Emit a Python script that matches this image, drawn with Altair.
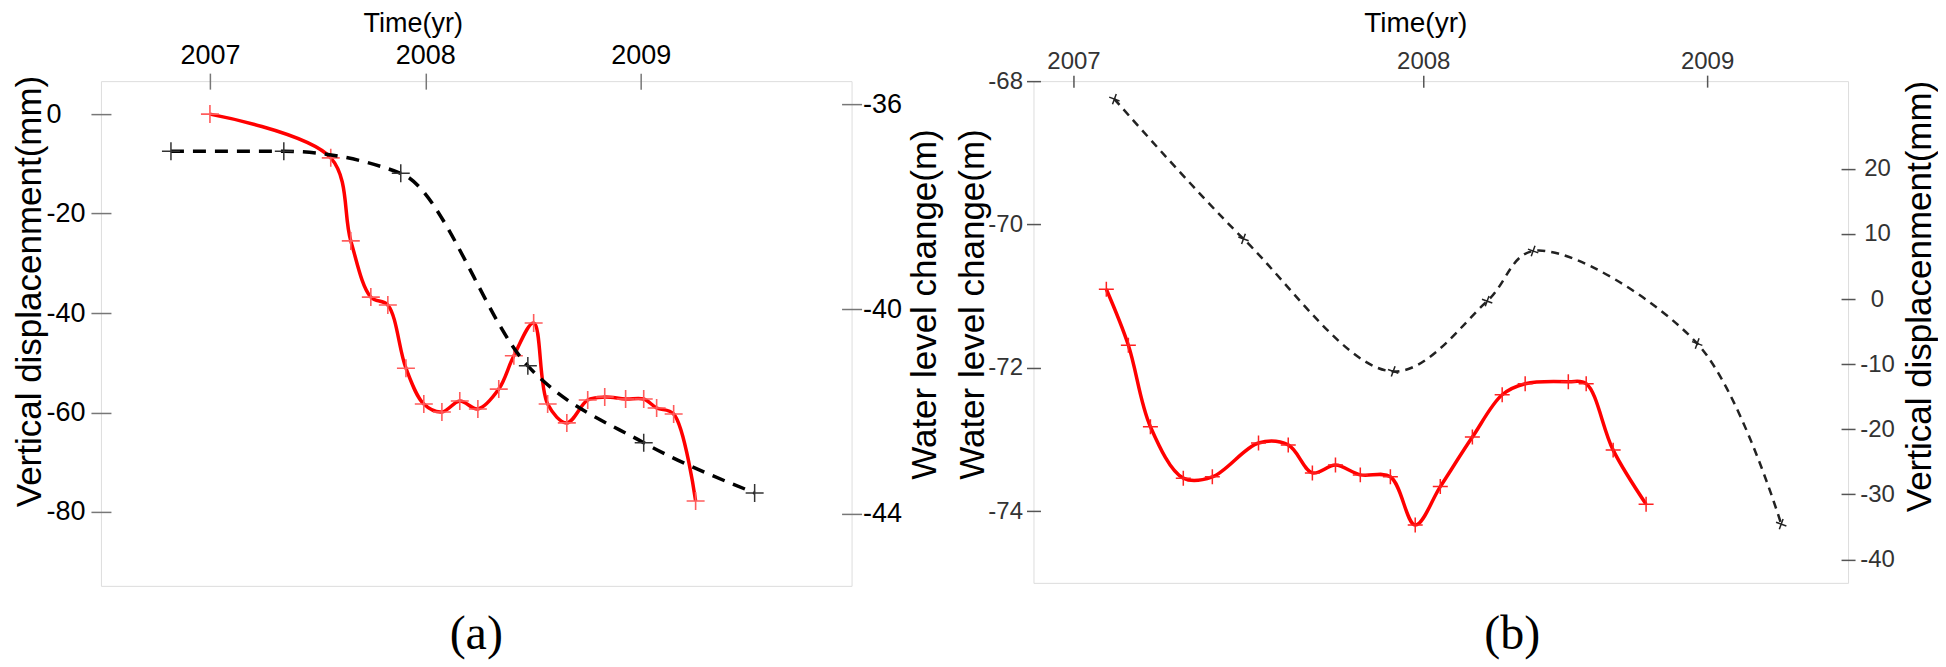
import altair as alt
import pandas as pd

SANS = "Liberation Sans"
SERIF = "Liberation Serif"
PLUS = "M-1,0L1,0M0,-1L0,1"

# ---------------- Panel (a) ----------------
A_RED_YEAR = [2007.000, 2007.561, 2007.654, 2007.747, 2007.826, 2007.910, 2007.993,
              2008.077, 2008.160, 2008.244, 2008.341, 2008.411, 2008.503, 2008.568,
              2008.657, 2008.754, 2008.833, 2008.930, 2009.014, 2009.074, 2009.153,
              2009.255]
A_RED_MM = [0.0, -8.8, -25.5, -36.8, -38.4, -51.1, -58.3,
            -59.9, -57.7, -59.3, -55.3, -48.6, -42.0, -58.3,
            -62.1, -57.5, -56.9, -57.3, -57.3, -59.1, -60.3,
            -77.8]
A_WL_YEAR = [2006.819, 2007.343, 2007.886, 2008.476, 2009.014, 2009.529]
A_WL_M = [-36.92, -36.92, -37.35, -41.11, -42.61, -43.59]

# ---------------- Panel (b) ----------------
B_WL_YEAR = [2007.117, 2007.486, 2007.914, 2008.225, 2008.387, 2008.965, 2009.261]
B_WL_M = [-68.25, -70.20, -72.05, -71.07, -70.37, -71.66, -74.18]
B_RED_YEAR = [2007.094, 2007.157, 2007.220, 2007.314, 2007.397, 2007.529, 2007.614,
              2007.683, 2007.749, 2007.820, 2007.906, 2007.977, 2008.060, 2008.173,
              2008.278, 2008.359, 2008.511, 2008.574, 2008.669, 2008.785]
B_RED_MM = [1.5, -7.1, -19.6, -27.5, -27.3, -22.1, -22.4,
            -26.7, -25.5, -27.0, -27.3, -34.7, -28.8, -21.2,
            -14.7, -13.0, -12.7, -13.0, -23.2, -31.5]

YEAR_TICKS = [2007, 2008, 2009]
A_LEFT_TICKS = [0, -20, -40, -60, -80]
A_RIGHT_TICKS = [-36, -40, -44]
B_LEFT_TICKS = [-74, -72, -70, -68]
B_RIGHT_TICKS = [-40, -30, -20, -10, 0, 10, 20]

df_a_red = pd.DataFrame({"year": A_RED_YEAR, "value": A_RED_MM})
df_a_wl = pd.DataFrame({"year": A_WL_YEAR, "value": A_WL_M})
df_b_red = pd.DataFrame({"year": B_RED_YEAR, "value": B_RED_MM})
df_b_wl = pd.DataFrame({"year": B_WL_YEAR, "value": B_WL_M})

HYPHEN_LABEL = "'' + datum.value"


def common_axis(**kw):
    base = dict(domain=False, grid=False, tickWidth=1.5, labelFont=SANS,
                titleFont=SANS, titleFontWeight="normal", labelOverlap=False,
                labelFlush=False)
    base.update(kw)
    return alt.Axis(**base)


# ---- axes panel (a)
ax_a_x = common_axis(orient="top", values=YEAR_TICKS, format="d", offset=-8, tickSize=16,
                     tickColor="#777777", labelFontSize=27, labelColor="#000000",
                     labelPadding=10, labelBaseline="alphabetic", labelAngle=0,
                     title="Time(yr)", titleFontSize=27, titleColor="#000000",
                     titleX=312, titleY=-58, titleAlign="center", titleBaseline="alphabetic")
ax_a_l = common_axis(orient="left", values=A_LEFT_TICKS, offset=-10, tickSize=20,
                     tickColor="#777777", labelFontSize=27, labelColor="#000000",
                     labelAlign="left", labelPadding=45, labelBaseline="middle",
                     labelExpr=HYPHEN_LABEL,
                     title="Vertical displacenment(mm)", titleFontSize=35, titleColor="#000000",
                     titleAngle=270, titleX=-81.5, titleY=210, titleAlign="center",
                     titleBaseline="middle")
ax_a_r = common_axis(orient="right", values=A_RIGHT_TICKS, offset=-10, tickSize=20,
                     tickColor="#777777", labelFontSize=27, labelColor="#000000",
                     labelAlign="left", labelPadding=1, labelBaseline="middle",
                     labelExpr=HYPHEN_LABEL,
                     title="Water level change(m)", titleFontSize=35, titleColor="#000000",
                     titleAngle=270, titleX=83, titleY=223, titleAlign="center",
                     titleBaseline="middle")

xa = alt.X("year:Q", axis=ax_a_x,
           scale=alt.Scale(domain=[2006.494, 2009.979], nice=False, zero=False))

base_a_red = alt.Chart(df_a_red).encode(
    x=xa,
    y=alt.Y("value:Q", axis=ax_a_l,
            scale=alt.Scale(domain=[-94.87, 6.63], nice=False, zero=False)))
a_red = alt.layer(
    base_a_red.mark_line(color="#ff0000", strokeWidth=3.5, interpolate="catmull-rom"),
    base_a_red.mark_point(shape=PLUS, size=324, filled=False, color="#ff5c5c",
                          strokeWidth=1.6, opacity=1),
)

base_a_wl = alt.Chart(df_a_wl).encode(
    x=xa,
    y=alt.Y("value:Q", axis=ax_a_r,
            scale=alt.Scale(domain=[-45.405, -35.551], nice=False, zero=False)))
a_wl = alt.layer(
    base_a_wl.mark_line(color="#000000", strokeWidth=3.5, strokeDash=[13, 9],
                        interpolate="monotone"),
    base_a_wl.mark_point(shape=PLUS, size=324, filled=False, color="#333333",
                         strokeWidth=1.5, opacity=1),
)

panel_a = alt.layer(a_red, a_wl).resolve_scale(y="independent").properties(
    width=751, height=505,
    title=alt.TitleParams("(a)", orient="bottom", frame="group", anchor="middle",
                          font=SERIF, fontSize=48, fontWeight="normal", color="#000000",
                          baseline="alphabetic", offset=63))

# ---- axes panel (b)
ax_b_x = common_axis(orient="top", values=YEAR_TICKS, format="d", offset=-6, tickSize=12,
                     tickColor="#555555", labelFontSize=24, labelColor="#333333",
                     labelPadding=7, labelBaseline="alphabetic", labelAngle=0,
                     title="Time(yr)", titleFontSize=28, titleColor="#000000",
                     titleX=382, titleY=-55.6, titleAlign="center", titleBaseline="alphabetic")
ax_b_l = common_axis(orient="left", values=B_LEFT_TICKS, offset=-7, tickSize=14,
                     tickColor="#555555", labelFontSize=24, labelColor="#333333",
                     labelAlign="right", labelPadding=4, labelBaseline="middle",
                     labelFlush=True, labelExpr=HYPHEN_LABEL,
                     title="Water level change(m)", titleFontSize=35, titleColor="#000000",
                     titleAngle=270, titleX=-68, titleY=223, titleAlign="center",
                     titleBaseline="middle")
ax_b_r = common_axis(orient="right", values=B_RIGHT_TICKS, offset=-7, tickSize=14,
                     tickColor="#555555", labelFontSize=24, labelColor="#333333",
                     labelAlign="center", labelPadding=22, labelBaseline="middle",
                     labelExpr=HYPHEN_LABEL,
                     title="Vertical displacenment(mm)", titleFontSize=35, titleColor="#000000",
                     titleAngle=270, titleX=78, titleY=215, titleAlign="center",
                     titleBaseline="middle")

xb = alt.X("year:Q", axis=ax_b_x,
           scale=alt.Scale(domain=[2006.8857, 2008, 2009, 2009.4965],
                           range=[0, 390, 674, 815], nice=False, zero=False))

base_b_wl = alt.Chart(df_b_wl).encode(
    x=xb,
    y=alt.Y("value:Q", axis=ax_b_l,
            scale=alt.Scale(domain=[-75, -68], nice=False, zero=False)))
b_wl = alt.layer(
    base_b_wl.mark_line(color="#222222", strokeWidth=2.5, strokeDash=[8, 6],
                        interpolate="catmull-rom"),
    base_b_wl.mark_point(shape=PLUS, size=121, filled=False, color="#222222",
                         strokeWidth=1.5, opacity=1, angle=20),
)

base_b_red = alt.Chart(df_b_red).encode(
    x=xb,
    y=alt.Y("value:Q", axis=ax_b_r,
            scale=alt.Scale(domain=[-43.58, 33.45], nice=False, zero=False)))
b_red = alt.layer(
    base_b_red.mark_line(color="#ff0000", strokeWidth=3.5, interpolate="catmull-rom"),
    base_b_red.mark_point(shape=PLUS, size=225, filled=False, color="#ff2020",
                          strokeWidth=1.5, opacity=1),
)

panel_b = alt.layer(b_wl, b_red).resolve_scale(y="independent").properties(
    width=815, height=502,
    title=alt.TitleParams("(b)", orient="bottom", frame="group", anchor="middle",
                          font=SERIF, fontSize=48, fontWeight="normal", color="#000000",
                          baseline="alphabetic", offset=66, dx=71.5))

chart = alt.hconcat(
    panel_a, panel_b, spacing=182, bounds="flush",
    padding={"left": 3, "top": 0, "right": 0, "bottom": 0},
).configure_view(stroke="#8c8c8c", strokeWidth=2).configure(background="white")

chart.save("out.html", embed_options={"renderer": "svg", "actions": False})
